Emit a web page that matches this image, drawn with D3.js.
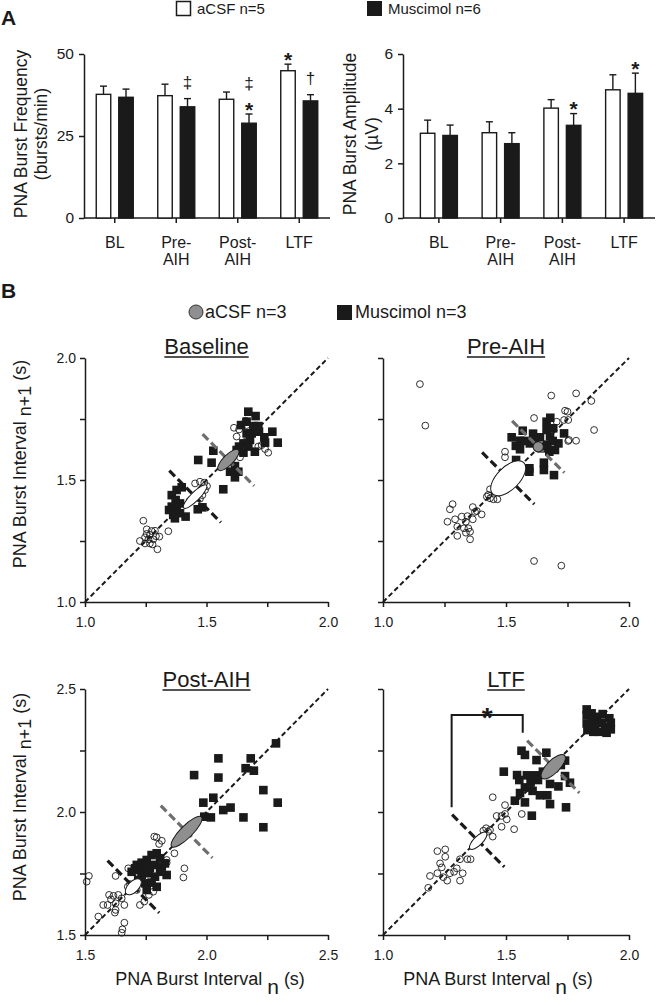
<!DOCTYPE html>
<html><head><meta charset="utf-8">
<script src="https://cdn.jsdelivr.net/npm/d3@7"></script>
<style>
body{margin:0;background:#fff}
svg{display:block}
text{font-family:"Liberation Sans",Arial,Helvetica,sans-serif;fill:#1a1a1a}
</style>
</head><body>
<svg id="c" width="656" height="1005"></svg>
<script>
// ---------------- Panel A data ----------------
const categories = ["BL", "Pre-AIH", "Post-AIH", "LTF"];
const categoryLines = [["BL"], ["Pre-", "AIH"], ["Post-", "AIH"], ["LTF"]];
const series = ["aCSF", "Muscimol"];
const freqACSF = [37.7, 37.3, 36.2, 44.9];
const freqACSFErr = [2.5, 3.5, 2.2, 2.0];
const freqMusc = [36.8, 33.9, 28.9, 35.7];
const freqMuscErr = [2.5, 2.5, 2.8, 1.9];
const ampACSF = [3.10, 3.12, 4.02, 4.69];
const ampACSFErr = [0.48, 0.40, 0.31, 0.55];
const ampMusc = [3.02, 2.72, 3.39, 4.56];
const ampMuscErr = [0.38, 0.40, 0.43, 0.74];
const freqTicks = [0, 25, 50];
const ampTicks = [0, 2, 4, 6];
const freqMarksACSF = ["", "", "", "*"];
const freqMarksMusc = ["", "‡", "‡*", "†"];
const ampMarksACSF = ["", "", "", ""];
const ampMarksMusc = ["", "", "*", "*"];

// ---------------- Panel B data ([interval n, interval n+1] in s) ----------------
const baselineACSF = [[1.24,1.333],[1.254,1.298],[1.274,1.291],[1.288,1.292],[1.226,1.25],[1.247,1.265],[1.261,1.257],[1.267,1.24],[1.278,1.236],[1.292,1.27],[1.306,1.268],[1.343,1.29],[1.298,1.216],[1.267,1.275],[1.254,1.279],[1.247,1.24],[1.281,1.257],
 [1.453,1.486],[1.473,1.493],[1.491,1.489],[1.502,1.475],[1.494,1.459],[1.483,1.438],[1.473,1.423],
 [1.613,1.714],[1.624,1.678],[1.661,1.743],[1.665,1.725],[1.727,1.643],[1.754,1.612],[1.741,1.627],[1.713,1.637],[1.652,1.65],[1.638,1.63],[1.634,1.707],[1.638,1.593],[1.661,1.657]];
const baselineMusc = [[1.377,1.459],[1.398,1.47],[1.357,1.438],[1.373,1.418],[1.357,1.391],[1.377,1.384],[1.346,1.377],[1.363,1.357],[1.391,1.364],[1.414,1.35],[1.391,1.404],[1.464,1.38],[1.483,1.388],[1.37,1.343],
 [1.672,1.78],[1.702,1.762],[1.642,1.725],[1.665,1.739],[1.693,1.721],[1.713,1.721],[1.716,1.698],[1.686,1.691],[1.665,1.691],[1.679,1.664],[1.652,1.65],[1.634,1.637],[1.738,1.675],[1.771,1.698],[1.793,1.653],[1.741,1.653],[1.699,1.616],[1.652,1.612],[1.624,1.623],[1.528,1.62],[1.466,1.582],[1.521,1.571],[1.569,1.462],[1.617,1.557],[1.631,1.534],[1.617,1.511],[1.597,1.534],[1.672,1.637]];
const preACSF = [[1.15,1.893],[1.172,1.723],[1.614,1.168],[1.725,1.149],[1.858,1.705],[1.847,1.824],[1.785,1.855],[1.684,1.846],[1.614,1.754],[1.785,1.661],[1.756,1.664],
 [1.74,1.784],[1.75,1.78],[1.736,1.746],[1.753,1.746],[1.706,1.739],[1.753,1.66],
 [1.496,1.616],[1.496,1.593],[1.435,1.462],[1.422,1.432],[1.435,1.425],[1.449,1.421],[1.465,1.421],[1.428,1.439],
 [1.283,1.401],[1.272,1.38],[1.262,1.329],[1.293,1.339],[1.302,1.309],[1.32,1.35],[1.337,1.329],[1.343,1.352],[1.365,1.389],[1.381,1.373],[1.401,1.359],[1.365,1.339],[1.329,1.302],[1.347,1.302],[1.354,1.288],[1.337,1.284],[1.302,1.271],[1.354,1.257],[1.374,1.369]];
const preMusc = [[1.523,1.675],[1.557,1.661],[1.557,1.626],[1.568,1.702],[1.597,1.65],[1.617,1.67],[1.638,1.675],[1.665,1.739],[1.665,1.705],[1.692,1.712],[1.679,1.678],[1.699,1.623],[1.676,1.616],[1.713,1.65],[1.736,1.691],[1.654,1.571],[1.654,1.541],[1.695,1.52],[1.595,1.548],[1.595,1.534],[1.541,1.582],[1.645,1.63],[1.668,1.643],[1.575,1.66],[1.61,1.69],[1.68,1.755],[1.69,1.66],[1.54,1.64]];
const postACSF = [[1.785,1.9],[1.795,1.897],[1.816,1.883],[1.805,1.87],[1.868,1.832],[1.836,1.805],[1.836,1.794],[1.909,1.771],[1.905,1.734],[1.678,1.771],[1.626,1.74],[1.516,1.74],[1.507,1.717],[1.676,1.696],[1.599,1.663],[1.617,1.659],[1.637,1.663],[1.607,1.645],[1.651,1.649],[1.662,1.622],[1.626,1.629],[1.575,1.622],[1.593,1.622],[1.626,1.602],[1.623,1.591],[1.726,1.622],[1.744,1.636],[1.763,1.663],[1.781,1.676],[1.555,1.575],[1.662,1.55],[1.654,1.523],[1.651,1.509],[1.685,1.707],[1.713,1.683]];
const postMusc = [[2.049,2.218],[2.182,2.218],[1.949,2.15],[2.049,2.14],[2.161,2.178],[2.195,2.168],[2.234,2.089],[1.987,2.038],[2.028,2.058],[2.069,2.008],[2.099,2.018],[2.152,1.978],[2.234,1.938],[1.991,1.981],[2.018,1.978],[2.286,2.279],[2.293,2.038],
 [1.774,1.825],[1.795,1.832],[1.809,1.812],[1.754,1.805],[1.733,1.794],[1.713,1.785],[1.706,1.771],[1.726,1.764],[1.747,1.778],[1.767,1.771],[1.788,1.785],[1.816,1.778],[1.829,1.791],[1.836,1.744],[1.733,1.744],[1.761,1.751],[1.788,1.737],[1.719,1.724],[1.747,1.71],[1.774,1.713],[1.795,1.696],[1.754,1.683],[1.692,1.757],[1.809,1.757]];
const ltfACSF = [[1.221,1.341],[1.253,1.348],[1.253,1.318],[1.232,1.291],[1.239,1.275],[1.191,1.24],[1.221,1.251],[1.245,1.235],[1.261,1.221],[1.289,1.257],[1.313,1.308],[1.343,1.308],[1.356,1.308],[1.324,1.251],[1.313,1.221],[1.184,1.192],[1.272,1.251],[1.3,1.271],
 [1.446,1.56],[1.496,1.528],[1.462,1.484],[1.482,1.484],[1.496,1.492],[1.503,1.47],[1.482,1.44],[1.533,1.43],[1.564,1.492],[1.419,1.434],[1.435,1.427],[1.446,1.4],[1.408,1.424],[1.427,1.42]];
const ltfMusc = [[1.828,1.917],[1.828,1.894],[1.848,1.901],[1.869,1.887],[1.893,1.898],[1.92,1.881],[1.926,1.863],[1.903,1.844],[1.88,1.826],[1.909,1.822],[1.855,1.826],[1.828,1.86],[1.831,1.833],[1.862,1.858],[1.889,1.863],[1.848,1.876],[1.926,1.836],
 [1.563,1.749],[1.577,1.732],[1.624,1.711],[1.664,1.741],[1.491,1.664],[1.545,1.65],[1.554,1.63],[1.585,1.649],[1.619,1.649],[1.63,1.63],[1.6,1.62],[1.577,1.6],[1.557,1.577],[1.536,1.546],[1.577,1.539],[1.608,1.586],[1.638,1.568],[1.668,1.568],[1.679,1.532],[1.605,1.485],[1.713,1.604],[1.74,1.709],[1.76,1.619],[1.744,1.519],[1.679,1.614],[1.65,1.664],[1.723,1.691],[1.74,1.646]];
// ellipses: [centre x, centre y, semi-axis along identity, semi-axis across identity]
const baselineWhite = [1.453, 1.432, 0.066, 0.018];
const baselineGray = [1.590, 1.582, 0.058, 0.021];
const preWhite = [1.509, 1.507, 0.090, 0.046];
const preGray = [1.631, 1.636, 0.021, 0.021];
const postWhite = [1.699, 1.696, 0.041, 0.022];
const postGray = [1.918, 1.920, 0.086, 0.025];
const ltfWhite = [1.387, 1.383, 0.047, 0.018];
const ltfGray = [1.692, 1.684, 0.065, 0.026];
const ticksA = [1, 1.25, 1.5, 1.75, 2];
const ticksB = [1.5, 1.75, 2, 2.25, 2.5];
const ltfBracket = [[1.279, 1.519], [1.279, 1.894], [1.568, 1.894], [1.568, 1.822]];

// ---------------- drawing ----------------
const svg = d3.select("#c");
const INK = "#1a1a1a";

function styleAxis(sel, fs) {
  sel.selectAll("path.domain").attr("stroke", INK).attr("stroke-width", 1.5);
  sel.selectAll(".tick line").attr("stroke", INK).attr("stroke-width", 1.5);
  sel.selectAll(".tick text").attr("font-size", fs).attr("fill", INK)
     .style("font-family", '"Liberation Sans",Arial,sans-serif');
}

function barChart(o) {
  const g = svg.append("g");
  const x = d3.scaleBand().domain(categories).range(o.xr);
  const xs = d3.scaleBand().domain(series).range([-18.5, 18.5]).paddingInner(0.356);
  const y = d3.scaleLinear().domain(o.domain).range([218, 54]);
  const ya = g.append("g").attr("transform", `translate(${o.axisX},0)`)
    .call(d3.axisLeft(y).tickValues(o.ticks).tickSize(5).tickPadding(5).tickSizeOuter(0).tickFormat(d3.format("d")));
  styleAxis(ya, 15.5);
  g.append("line").attr("x1", o.axisX).attr("x2", o.xr[1]).attr("y1", 218).attr("y2", 218)
    .attr("stroke", INK).attr("stroke-width", 1.5);
  const xa = g.append("g").attr("transform", "translate(0,218)")
    .call(d3.axisBottom(x).tickSize(5).tickFormat(""));
  xa.select("path.domain").remove();
  styleAxis(xa, 15);
  categories.forEach((c, i) => {
    const t = g.append("text").attr("text-anchor", "middle").attr("font-size", 16)
      .attr("x", x(c) + x.bandwidth() / 2).attr("y", 248);
    categoryLines[i].forEach((ln, j) => {
      t.append("tspan").attr("x", x(c) + x.bandwidth() / 2).attr("dy", j === 0 ? 0 : 17).text(ln);
    });
  });
  const sets = [
    {s: "aCSF", v: o.a, e: o.ae, m: o.am, fill: "#fff"},
    {s: "Muscimol", v: o.b, e: o.be, m: o.bm, fill: "#1a1a1a"}
  ];
  sets.forEach(st => {
    categories.forEach((c, i) => {
      const cx = x(c) + x.bandwidth() / 2 + xs(st.s);
      const w = xs.bandwidth();
      const mid = cx + w / 2;
      const yt = y(st.v[i] + st.e[i]);
      g.append("line").attr("x1", mid).attr("x2", mid).attr("y1", y(st.v[i])).attr("y2", yt)
        .attr("stroke", INK).attr("stroke-width", 1.4);
      g.append("line").attr("x1", mid - 3.5).attr("x2", mid + 3.5).attr("y1", yt).attr("y2", yt)
        .attr("stroke", INK).attr("stroke-width", 1.4);
      g.append("rect").attr("x", cx).attr("width", w).attr("y", y(st.v[i]))
        .attr("height", y(0) - y(st.v[i])).attr("fill", st.fill)
        .attr("stroke", INK).attr("stroke-width", 1.4);
      const marks = st.m[i].split("").reverse();
      let cy = yt;
      marks.forEach((mk, k) => {
        cy -= (k === 0 ? (mk === "*" ? 9 : 15) : 21);
        const fs = mk === "*" ? 21 : 17;
        const base = mk === "*" ? cy + 0.55 * fs : cy + 0.28 * fs;
        g.append("text").attr("x", mid).attr("y", base).attr("text-anchor", "middle")
          .attr("font-size", fs).attr("font-weight", mk === "*" ? "bold" : "normal").text(mk);
      });
    });
  });
  const ty = g.append("text").attr("transform", `translate(${o.titleX},134) rotate(-90)`)
    .attr("text-anchor", "middle").attr("font-size", 17.5);
  ty.append("tspan").attr("x", 0).attr("dy", 0).text(o.title1);
  ty.append("tspan").attr("x", 0).attr("dy", o.title2dy).text(o.title2);
}

barChart({xr: [84, 330], axisX: 84, domain: [0, 50], ticks: freqTicks,
  a: freqACSF, ae: freqACSFErr, b: freqMusc, be: freqMuscErr, am: freqMarksACSF, bm: freqMarksMusc,
  titleX: 27, title1: "PNA Burst Frequency", title2: "(bursts/min)", title2dy: 20});
barChart({xr: [408, 655], axisX: 403, domain: [0, 6], ticks: ampTicks,
  a: ampACSF, ae: ampACSFErr, b: ampMusc, be: ampMuscErr, am: ampMarksACSF, bm: ampMarksMusc,
  titleX: 356, title1: "PNA Burst Amplitude", title2: "(µV)", title2dy: 22});

svg.append("text").attr("x", 1).attr("y", 25).attr("font-size", 21).attr("font-weight", "bold").text("A");
svg.append("text").attr("x", 1).attr("y", 298).attr("font-size", 21).attr("font-weight", "bold").text("B");
svg.append("rect").attr("x", 176.5).attr("y", 1.5).attr("width", 14).attr("height", 14)
  .attr("fill", "#fff").attr("stroke", INK).attr("stroke-width", 1.5);
svg.append("text").attr("x", 197).attr("y", 14).attr("font-size", 15).text("aCSF n=5");
svg.append("rect").attr("x", 367).attr("y", 1).attr("width", 15).attr("height", 15).attr("fill", INK);
svg.append("text").attr("x", 388).attr("y", 14).attr("font-size", 15).text("Muscimol n=6");

svg.append("circle").attr("cx", 196).attr("cy", 312).attr("r", 7)
  .attr("fill", "#8f8f8f").attr("stroke", "#333").attr("stroke-width", 1);
svg.append("text").attr("x", 205).attr("y", 318).attr("font-size", 18).text("aCSF n=3");
svg.append("rect").attr("x", 337).attr("y", 305).attr("width", 15).attr("height", 15).attr("fill", INK);
svg.append("text").attr("x", 355).attr("y", 318).attr("font-size", 18).text("Muscimol n=3");

function poincare(o) {
  const g = svg.append("g");
  const x = d3.scaleLinear().domain(o.dom).range(o.xr);
  const y = d3.scaleLinear().domain(o.dom).range(o.yr);
  const fmt = d => (Math.abs(d * 2 - Math.round(d * 2)) < 1e-6 ? d3.format(".1f")(d) : "");
  const ya = g.append("g").attr("transform", `translate(${o.xr[0]},0)`)
    .call(d3.axisLeft(y).tickValues(o.ticks).tickSize(5).tickPadding(4).tickSizeOuter(0)
      .tickFormat(o.yLabels ? fmt : ""));
  styleAxis(ya, 14);
  const xa = g.append("g").attr("transform", `translate(0,${o.yr[0]})`)
    .call(d3.axisBottom(x).tickValues(o.ticks).tickSize(5).tickPadding(10).tickSizeOuter(0).tickFormat(fmt));
  styleAxis(xa, 14);
  g.append("line").attr("x1", x(o.dom[0])).attr("y1", y(o.dom[0])).attr("x2", x(o.dom[1])).attr("y2", y(o.dom[1]))
    .attr("stroke", INK).attr("stroke-width", 2).attr("stroke-dasharray", "5,3");
  g.selectAll("circle.a").data(o.acsf).join("circle")
    .attr("cx", d => x(d[0])).attr("cy", d => y(d[1])).attr("r", 3.4)
    .attr("fill", "none").attr("stroke", INK).attr("stroke-width", 0.9);
  g.selectAll("rect.m").data(o.musc).join("rect")
    .attr("x", d => x(d[0]) - 4.3).attr("y", d => y(d[1]) - 4.3).attr("width", 8.6).attr("height", 8.6)
    .attr("fill", INK);
  const h = 0.15 / Math.SQRT2;
  [[o.white, INK], [o.gray, "#6e6e6e"]].forEach(([e, col]) => {
    g.append("line").attr("x1", x(e[0] - h)).attr("y1", y(e[1] + h)).attr("x2", x(e[0] + h)).attr("y2", y(e[1] - h))
      .attr("stroke", col).attr("stroke-width", 3.2).attr("stroke-dasharray", "8,4");
  });
  const kx = Math.abs(x(1) - x(0)), ky = Math.abs(y(1) - y(0));
  [[o.white, "#fff"], [o.gray, "#8f8f8f"]].forEach(([e, fill]) => {
    g.append("ellipse").attr("transform", `translate(${x(e[0])},${y(e[1])}) rotate(-45)`)
      .attr("rx", e[2] * (kx + ky) / 2).attr("ry", e[3] * (kx + ky) / 2)
      .attr("fill", fill).attr("stroke", INK).attr("stroke-width", 1);
  });
  const cxm = (o.xr[0] + o.xr[1]) / 2;
  const t = g.append("text").attr("x", cxm).attr("y", o.titleY).attr("text-anchor", "middle")
    .attr("font-size", 22).text(o.title);
  const tw = t.node().getComputedTextLength();
  g.append("line").attr("x1", cxm - tw / 2).attr("x2", cxm + tw / 2).attr("y1", o.titleY + 3).attr("y2", o.titleY + 3)
    .attr("stroke", INK).attr("stroke-width", 1.4);
  if (o.bracket) {
    g.append("path").attr("d", d3.line().x(d => x(d[0])).y(d => y(d[1]))(o.bracket))
      .attr("fill", "none").attr("stroke", INK).attr("stroke-width", 2);
    const bx = (x(o.bracket[1][0]) + x(o.bracket[2][0])) / 2;
    g.append("text").attr("x", bx).attr("y", y(o.bracket[1][1]) + 12).attr("text-anchor", "middle")
      .attr("font-size", 28).attr("font-weight", "bold").text("*");
  }
}

poincare({dom: [1, 2], ticks: ticksA, xr: [85, 328], yr: [602, 358], yLabels: true, title: "Baseline", titleY: 354,
  acsf: baselineACSF, musc: baselineMusc, white: baselineWhite, gray: baselineGray});
poincare({dom: [1, 2], ticks: ticksA, xr: [383, 629], yr: [602, 358], yLabels: false, title: "Pre-AIH", titleY: 354,
  acsf: preACSF, musc: preMusc, white: preWhite, gray: preGray});
poincare({dom: [1.5, 2.5], ticks: ticksB, xr: [85, 328], yr: [935, 689], yLabels: true, title: "Post-AIH", titleY: 687,
  acsf: postACSF, musc: postMusc, white: postWhite, gray: postGray});
poincare({dom: [1, 2], ticks: ticksA, xr: [383, 629], yr: [935, 689], yLabels: false, title: "LTF", titleY: 687,
  acsf: ltfACSF, musc: ltfMusc, white: ltfWhite, gray: ltfGray, bracket: ltfBracket});

function yTitle(cy) {
  const t = svg.append("text").attr("transform", `translate(26,${cy}) rotate(-90)`)
    .attr("text-anchor", "middle").attr("font-size", 18);
  t.append("tspan").text("PNA Burst Interval ");
  t.append("tspan").attr("dy", 5).text("n+1");
  t.append("tspan").attr("dy", -5).text(" (s)");
}
yTitle(464); yTitle(797);
function xTitle(cx) {
  const t = svg.append("text").attr("x", cx).attr("y", 985).attr("text-anchor", "middle").attr("font-size", 18);
  t.append("tspan").text("PNA Burst Interval ");
  t.append("tspan").attr("dy", 9).attr("font-size", 21).text("n");
  t.append("tspan").attr("dy", -9).text(" (s)");
}
xTitle(210); xTitle(498);
</script>
</body></html>
